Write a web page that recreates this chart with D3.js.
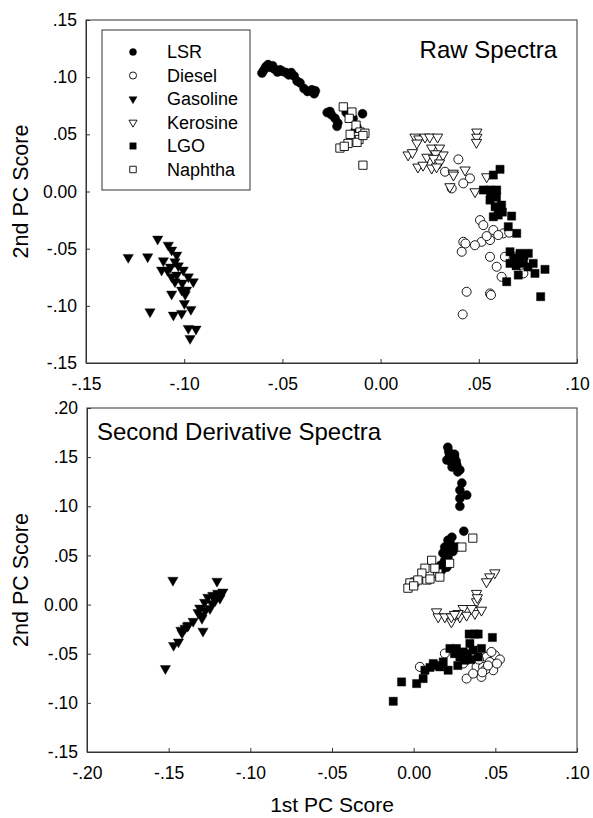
<!DOCTYPE html>
<html>
<head>
<meta charset="utf-8">
<script src="https://cdn.jsdelivr.net/npm/d3@7"></script>
<style>
  body { margin: 0; background: #fff; }
  text { font-family: "Liberation Sans", Arial, sans-serif; fill: #000; }
</style>
</head>
<body>
<script>
// series names (legend order = drawing order)
const series = ['LSR', 'Diesel', 'Gasoline', 'Kerosine', 'LGO', 'Naphtha']

// ticks
const rawXTicks = [-0.15, -0.10, -0.05, 0, 0.05, 0.10]
const rawYTicks = [-0.15, -0.10, -0.05, 0, 0.05, 0.10, 0.15]
const derXTicks = [-0.20, -0.15, -0.10, -0.05, 0, 0.05, 0.10]
const derYTicks = [-0.15, -0.10, -0.05, 0, 0.05, 0.10, 0.15, 0.20]

// Raw spectra scores [1st PC, 2nd PC]
const rawLSR = [[-0.0604,0.1036],[-0.0595,0.1060],[-0.0585,0.1090],[-0.0573,0.1110],[-0.0560,0.1085],[-0.0550,0.1100],[-0.0540,0.1070],[-0.0525,0.1045],[-0.0512,0.1065],[-0.0498,0.1050],[-0.0482,0.1040],[-0.0468,0.1020],[-0.0455,0.1040],[-0.0440,0.1010],[-0.0425,0.0965],[-0.0410,0.0950],[-0.0390,0.0900],[-0.0372,0.0875],[-0.0350,0.0890],[-0.0338,0.0855],[-0.0332,0.0880],[-0.0272,0.0690],[-0.0258,0.0700],[-0.0250,0.0670],[-0.0232,0.0640],[-0.0218,0.0600],[-0.0222,0.0570],[-0.0140,0.0640],[-0.0092,0.0680],[-0.0120,0.0560],[-0.0130,0.0530],[-0.0155,0.0660],[-0.0175,0.0690]]
const rawDiesel = [[0.0396,0.0281],[0.0328,0.0173],[0.0455,0.0115],[0.0421,0.0071],[0.0362,0.0027],[0.0506,-0.0250],[0.0523,-0.0294],[0.0574,-0.0337],[0.0625,-0.0366],[0.0421,-0.0440],[0.0432,-0.0455],[0.0413,-0.0527],[0.0514,-0.0440],[0.0557,-0.0425],[0.0599,-0.0381],[0.0557,-0.0571],[0.0591,-0.0658],[0.0616,-0.0746],[0.0727,-0.0716],[0.0438,-0.0877],[0.0557,-0.0892],[0.0562,-0.0905],[0.0418,-0.1075],[0.0633,-0.0571],[0.0480,-0.0470],[0.0655,-0.0360],[0.0690,-0.0570],[0.0540,-0.0390]]
const rawGasoline = [[-0.1135,-0.0416],[-0.1081,-0.0469],[-0.1064,-0.0512],[-0.1038,-0.0556],[-0.1285,-0.0576],[-0.1186,-0.0571],[-0.1106,-0.0606],[-0.1047,-0.0614],[-0.1030,-0.0650],[-0.1115,-0.0687],[-0.1085,-0.0690],[-0.1070,-0.0660],[-0.1064,-0.0746],[-0.1038,-0.0731],[-0.1005,-0.0687],[-0.0979,-0.0746],[-0.0954,-0.0789],[-0.1010,-0.0800],[-0.1047,-0.0789],[-0.1064,-0.0897],[-0.1013,-0.0862],[-0.0988,-0.0862],[-0.0995,-0.0900],[-0.0999,-0.0979],[-0.0966,-0.1031],[-0.1174,-0.1052],[-0.1055,-0.1081],[-0.1013,-0.1066],[-0.0979,-0.1197],[-0.0940,-0.1203],[-0.0970,-0.1285]]
const rawKerosine = [[0.0175,0.0476],[0.0195,0.0460],[0.0226,0.0476],[0.0250,0.0476],[0.0290,0.0476],[0.0185,0.0424],[0.0140,0.0320],[0.0162,0.0340],[0.0236,0.0300],[0.0260,0.0380],[0.0300,0.0380],[0.0318,0.0320],[0.0280,0.0330],[0.0270,0.0290],[0.0190,0.0214],[0.0216,0.0230],[0.0260,0.0205],[0.0300,0.0250],[0.0285,0.0215],[0.0369,0.0160],[0.0430,0.0188],[0.0490,0.0520],[0.0490,0.0475],[0.0488,0.0430],[0.0481,-0.0002],[0.0540,0.0129],[0.0353,0.0042],[0.0371,0.0144]]
const rawLGO = [[0.0608,0.0194],[0.0574,0.0144],[0.0523,0.0013],[0.0557,0.0013],[0.0591,0.0013],[0.0560,-0.0030],[0.0590,-0.0050],[0.0557,-0.0075],[0.0583,-0.0133],[0.0616,-0.0119],[0.0574,-0.0221],[0.0599,-0.0206],[0.0600,-0.0160],[0.0620,-0.0180],[0.0667,-0.0215],[0.0650,-0.0308],[0.0693,-0.0366],[0.0659,-0.0527],[0.0710,-0.0541],[0.0752,-0.0541],[0.0680,-0.0580],[0.0730,-0.0560],[0.0659,-0.0629],[0.0701,-0.0600],[0.0727,-0.0629],[0.0690,-0.0650],[0.0750,-0.0660],[0.0777,-0.0629],[0.0837,-0.0681],[0.0786,-0.0716],[0.0701,-0.0731],[0.0642,-0.0789],[0.0815,-0.0920]]
const rawNaphtha = [[-0.0190,0.0740],[-0.0146,0.0695],[-0.0160,0.0640],[-0.0125,0.0580],[-0.0105,0.0520],[-0.0080,0.0510],[-0.0130,0.0480],[-0.0110,0.0455],[-0.0150,0.0450],[-0.0166,0.0420],[-0.0207,0.0380],[-0.0185,0.0395],[-0.0120,0.0430],[-0.0090,0.0490],[-0.0155,0.0500],[-0.0090,0.0230]]

// Second derivative spectra scores [1st PC, 2nd PC]
const derLSR = [[0.0209,0.1600],[0.0215,0.1555],[0.0250,0.1530],[0.0220,0.1520],[0.0203,0.1470],[0.0250,0.1500],[0.0240,0.1480],[0.0260,0.1460],[0.0264,0.1420],[0.0235,0.1400],[0.0283,0.1370],[0.0270,0.1350],[0.0230,0.1450],[0.0295,0.1236],[0.0283,0.1165],[0.0325,0.1114],[0.0283,0.1080],[0.0283,0.1000],[0.0307,0.0747],[0.0234,0.0686],[0.0210,0.0655],[0.0225,0.0620],[0.0264,0.0585],[0.0190,0.0585],[0.0200,0.0550],[0.0240,0.0540],[0.0179,0.0524],[0.0190,0.0450],[0.0203,0.0380],[0.0165,0.0400],[0.0172,0.0350],[0.0148,0.0320],[0.0210,0.0480],[0.0185,0.0420]]
const derDiesel = [[0.0191,-0.0498],[0.0038,-0.0634],[0.0324,-0.0753],[0.0497,-0.0515],[0.0528,-0.0559],[0.0487,-0.0668],[0.0405,-0.0702],[0.0446,-0.0533],[0.0466,-0.0584],[0.0385,-0.0634],[0.0425,-0.0634],[0.0415,-0.0736],[0.0476,-0.0482],[0.0364,-0.0702],[0.0303,-0.0600],[0.0440,-0.0660],[0.0400,-0.0560],[0.0455,-0.0620],[0.0510,-0.0600],[0.0420,-0.0690]]
const derGasoline = [[-0.1474,0.0248],[-0.1204,0.0238],[-0.1520,-0.0650],[-0.1470,-0.0415],[-0.1440,-0.0380],[-0.1418,-0.0290],[-0.1400,-0.0240],[-0.1380,-0.0210],[-0.1350,-0.0170],[-0.1290,-0.0270],[-0.1320,-0.0080],[-0.1296,-0.0140],[-0.1310,-0.0035],[-0.1280,0.0024],[-0.1247,-0.0040],[-0.1260,0.0075],[-0.1230,0.0095],[-0.1200,0.0116],[-0.1168,0.0128],[-0.1186,0.0065],[-0.1215,0.0040],[-0.1235,0.0010],[-0.1275,-0.0060],[-0.1300,-0.0110],[-0.1425,-0.0260],[-0.1385,-0.0220],[-0.1195,0.0100],[-0.1220,0.0080]]
const derKerosine = [[0.0497,0.0323],[0.0466,0.0282],[0.0446,0.0232],[0.0385,0.0114],[0.0385,0.0029],[0.0390,0.0070],[0.0140,-0.0074],[0.0150,-0.0125],[0.0191,-0.0125],[0.0231,-0.0176],[0.0231,-0.0125],[0.0283,-0.0125],[0.0303,-0.0040],[0.0324,-0.0108],[0.0375,-0.0091],[0.0415,-0.0057],[0.0354,-0.0040],[0.0272,-0.0091],[0.0250,-0.0100]]
const derLGO = [[0.0375,-0.0300],[0.0395,-0.0300],[0.0340,-0.0300],[0.0482,-0.0335],[0.0344,-0.0396],[0.0222,-0.0447],[0.0262,-0.0447],[0.0250,-0.0500],[0.0330,-0.0500],[0.0283,-0.0533],[0.0313,-0.0566],[0.0350,-0.0560],[0.0303,-0.0482],[0.0415,-0.0447],[0.0364,-0.0464],[0.0395,-0.0533],[0.0270,-0.0620],[0.0120,-0.0600],[0.0140,-0.0620],[0.0100,-0.0640],[0.0069,-0.0668],[0.0211,-0.0668],[0.0160,-0.0634],[0.0181,-0.0584],[0.0058,-0.0753],[0.0018,-0.0804],[-0.0074,-0.0787],[-0.0125,-0.0984]]
const derNaphtha = [[0.0362,0.0676],[0.0295,0.0585],[0.0220,0.0420],[0.0110,0.0450],[0.0069,0.0370],[0.0148,0.0320],[0.0081,0.0250],[0.0050,0.0320],[0.0007,0.0230],[-0.0023,0.0220],[-0.0035,0.0167],[0.0100,0.0260],[0.0026,0.0250],[0.0130,0.0370],[0.0160,0.0280],[0.0000,0.0190]]

// marker look per series
const markers = {
	LSR: { type: d3.symbolCircle, size: 64, filled: true, rot: 0 },
	Diesel: { type: d3.symbolCircle, size: 64, filled: false, rot: 0 },
	Gasoline: { type: d3.symbolTriangle, size: 46, filled: true, rot: 180 },
	Kerosine: { type: d3.symbolTriangle, size: 46, filled: false, rot: 180 },
	LGO: { type: d3.symbolSquare, size: 68, filled: true, rot: 0 },
	Naphtha: { type: d3.symbolSquare, size: 68, filled: false, rot: 0 }
}

const fmt = v => (Math.abs(v) < 1e-9 ? '0.00' : v.toFixed(2).replace('0.', '.'))

const svg = d3.select('body').append('svg').attr('width', 593).attr('height', 818)

function drawMarker(sel, name, scale) {
	const m = markers[name]
	sel.attr('d', d3.symbol().type(m.type).size(m.size * scale)())
		.attr('fill', m.filled ? '#000' : '#fff')
		.attr('stroke', '#000')
		.attr('stroke-width', m.filled ? 0.4 : 0.9)
}

function panel(opt) {
	const x = d3.scaleLinear().domain(opt.xDomain).range([opt.left, opt.right])
	const y = d3.scaleLinear().domain(opt.yDomain).range([opt.bottom, opt.top])
	const g = svg.append('g')

	// punten
	series.forEach(name => {
		g.append('g')
			.selectAll('path')
			.data(opt.data[name])
			.join('path')
			.call(drawMarker, name, 1)
			.attr('transform', d => `translate(${x(d[0])},${y(d[1])}) rotate(${markers[name].rot})`)
	})

	// frame
	g.append('rect')
		.attr('x', opt.left).attr('y', opt.top)
		.attr('width', opt.right - opt.left).attr('height', opt.bottom - opt.top)
		.attr('fill', 'none').attr('stroke', '#333').attr('stroke-width', 1)

	const xaxis = d3.axisBottom(x).tickValues(opt.xTicks).tickFormat(fmt).tickSize(-4).tickSizeOuter(0).tickPadding(15)
	const yaxis = d3.axisLeft(y).tickValues(opt.yTicks).tickFormat(fmt).tickSize(-4).tickSizeOuter(0).tickPadding(9)
	g.append('g').attr('transform', `translate(0,${opt.bottom})`).call(xaxis)
	g.append('g').attr('transform', `translate(${opt.left},0)`).call(yaxis)
	g.selectAll('.tick text').attr('font-size', 17.5).attr('font-family', '"Liberation Sans", Arial, sans-serif').attr('fill', '#000')
	g.selectAll('.domain').attr('stroke', '#333')
	g.selectAll('.tick line').attr('stroke', '#333')

	// y as titel
	g.append('text')
		.attr('transform', `translate(28,${(opt.top + opt.bottom) / 2}) rotate(-90)`)
		.attr('text-anchor', 'middle')
		.attr('font-size', 21.5)
		.text('2nd PC Score')

	return { x, y, g }
}

const topPanel = panel({
	left: 86, right: 577, top: 20, bottom: 363,
	xDomain: [-0.15, 0.10], yDomain: [-0.15, 0.15],
	xTicks: rawXTicks, yTicks: rawYTicks,
	data: { LSR: rawLSR, Diesel: rawDiesel, Gasoline: rawGasoline, Kerosine: rawKerosine, LGO: rawLGO, Naphtha: rawNaphtha }
})
topPanel.g.append('text').attr('x', 557).attr('y', 58).attr('text-anchor', 'end').attr('font-size', 24).text('Raw Spectra')

// legenda
const legend = topPanel.g.append('g')
legend.append('rect').attr('x', 102).attr('y', 30).attr('width', 148).attr('height', 160)
	.attr('fill', '#fff').attr('stroke', '#333').attr('stroke-width', 1)
series.forEach((name, i) => {
	const cy = 52 + i * 23.5
	legend.append('path').call(drawMarker, name, 0.62)
		.attr('transform', `translate(133,${cy}) rotate(${markers[name].rot})`)
	legend.append('text').attr('x', 167).attr('y', cy + 6).attr('font-size', 18).text(name)
})

const bottomPanel = panel({
	left: 87, right: 577, top: 408, bottom: 752,
	xDomain: [-0.20, 0.10], yDomain: [-0.15, 0.20],
	xTicks: derXTicks, yTicks: derYTicks,
	data: { LSR: derLSR, Diesel: derDiesel, Gasoline: derGasoline, Kerosine: derKerosine, LGO: derLGO, Naphtha: derNaphtha }
})
bottomPanel.g.append('text').attr('x', 97).attr('y', 440).attr('font-size', 24).text('Second Derivative Spectra')

svg.append('text').attr('x', 332).attr('y', 812).attr('text-anchor', 'middle').attr('font-size', 21).text('1st PC Score')
</script>
</body>
</html>
